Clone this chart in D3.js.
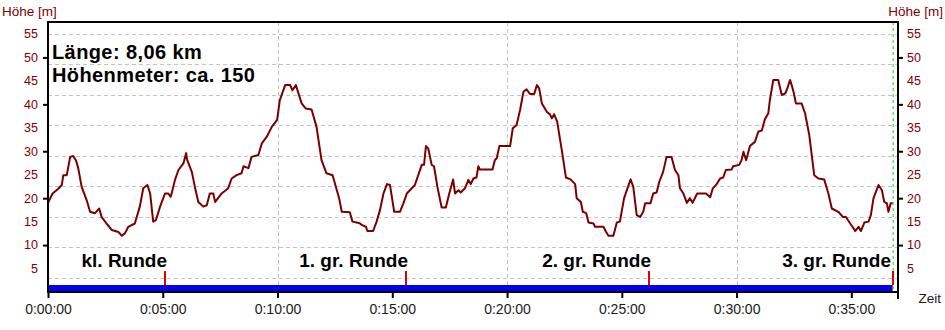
<!DOCTYPE html>
<html>
<head>
<meta charset="utf-8">
<script src="https://cdn.jsdelivr.net/npm/d3@7"></script>
<style>
  body { margin: 0; background: #fff; }
  svg { display: block; font-family: "Liberation Sans", Arial, sans-serif; }
</style>
</head>
<body>
<div id="chart"></div>
<script>
// elevation profile (time in seconds, height in m)
const timeSec = [0,12,27,36,40,49,58,66,73,79,88,101,110,123,134,140,153,167,184,193,201,210,227,240,249,260,267,275,282,293,306,314,321,332,341,354,361,364,376,384,393,406,415,423,432,437,454,471,480,493,506,511,524,532,550,559,572,585,599,606,620,633,639,648,663,674,689,702,715,728,744,755,761,768,789,796,807,816,820,831,835,850,859,868,877,886,894,905,920,929,938,951,959,968,977,983,988,994,1003,1009,1018,1029,1040,1049,1059,1064,1073,1079,1090,1099,1105,1112,1120,1125,1129,1162,1168,1173,1180,1208,1215,1225,1234,1243,1251,1260,1271,1278,1284,1291,1304,1312,1317,1323,1331,1343,1354,1366,1378,1382,1393,1398,1407,1413,1426,1430,1452,1459,1465,1478,1487,1495,1506,1523,1530,1539,1548,1556,1561,1575,1582,1591,1598,1608,1617,1630,1639,1648,1652,1661,1670,1678,1685,1697,1720,1731,1738,1748,1757,1765,1772,1787,1791,1807,1813,1818,1825,1835,1848,1857,1866,1874,1883,1887,1896,1909,1918,1927,1931,1940,1944,1950,1955,1970,1979,1990,2003,2014,2029,2040,2049,2066,2078,2086,2097,2103,2110,2119,2125,2134,2145,2151,2158,2171,2180,2186,2193,2197,2203,2208];
const heightM = [19,21,22,22.8,24.9,24.9,28.8,29,28.1,26.4,22.4,19.6,17.1,16.8,17.8,16,14.6,13.2,12.8,12,12.5,13.9,14.6,18.2,22.1,22.8,21,15,15.3,18.2,21,21,20.3,23.9,26,27.4,29.6,28.1,25.6,22.4,19.2,18.2,18.5,21,21,19.2,21,22.1,24.2,24.9,25.3,26.8,26.4,28.8,29.2,31.7,33.1,35.2,36.7,40.9,44.1,44.1,43,44.1,40.2,39.1,38.9,35.2,28.1,25.3,24.9,21.7,20,17.1,17,15,14.8,14.6,14.3,13.9,13,13,15,17.5,21,23,22.8,17.1,17.1,18.9,21,22.1,22.8,24.9,27.1,27.1,31.1,30.6,27.1,26.8,22.4,18,18,21,24,21,21.7,21.2,22.1,23.9,23,24.2,24.4,26.8,26.1,26.1,28.1,28.5,31.1,31.1,34.9,35.6,38.8,42.7,43.2,42.2,42.2,44.1,43.4,40.2,38.4,37.9,37,37.9,36.3,30.3,24.4,24,23,20,19.2,17.1,16.8,14.8,14.6,13.9,13.9,12.8,12,12,14.8,15,20,24,22.4,16.4,16,17.1,18.9,18.9,21,21.2,23.5,25.6,28.8,28.8,26,24.9,22.1,21,19,20,19,21,21,20.2,22.1,23,24.2,24.4,26,26.1,26.8,27.1,28.1,29.9,28.1,31.1,32,34.2,34.4,36.8,38.1,40.9,45.2,45.2,42,42.3,43,45.2,44.1,42.3,40.2,40.2,38.1,33.5,24.9,24.2,24,21,17.8,17.1,16,16,14.6,13.9,13,13.9,13,14.8,15,16.4,20,22.8,21.7,19.2,18.9,17.1,18.9,18.9];

// lap markers
const lapNames = ["kl. Runde", "1. gr. Runde", "2. gr. Runde", "3. gr. Runde"];
const lapTimes = [307, 936, 1571, 2210];

const yLabelValues = [5, 10, 15, 20, 25, 30, 35, 40, 45, 50, 55];
const yTickValues = [10, 20, 30, 40, 50];
const yGridValues = [3, 9.5, 16, 22.5, 29, 35.5, 42, 48.5, 55];
const xTickValues = [0, 300, 600, 900, 1200, 1500, 1800, 2100];
const xGridValues = [600, 1200, 1800];
const infoLines = ["Länge: 8,06 km", "Höhenmeter: ca. 150"];

const W = 945, H = 330;
const pLeft = 48, pRight = 898, pTop = 22, pBottom = 292;
const trackEnd = 2208;

const svg = d3.select("#chart").append("svg")
  .attr("width", W).attr("height", H);

const x = d3.scaleLinear().domain([0, 2222]).range([pLeft, pRight]);
const y = d3.scaleLinear().domain([0, 57.55]).range([pBottom, pTop]);

const fmtTime = s => {
  const h = Math.floor(s / 3600), m = Math.floor((s % 3600) / 60), sec = s % 60;
  return `${h}:${String(m).padStart(2, "0")}:${String(sec).padStart(2, "0")}`;
};

// grid
svg.append("g").selectAll("line").data(yGridValues).join("line")
  .attr("x1", pLeft).attr("x2", pRight)
  .attr("y1", d => Math.round(y(d)) + 0.5).attr("y2", d => Math.round(y(d)) + 0.5)
  .attr("stroke", "#c4c4c4").attr("stroke-dasharray", "4,3");
svg.append("g").selectAll("line").data(xGridValues).join("line")
  .attr("x1", d => Math.round(x(d)) + 0.5).attr("x2", d => Math.round(x(d)) + 0.5)
  .attr("y1", pTop).attr("y2", pBottom)
  .attr("stroke", "#c4c4c4").attr("stroke-dasharray", "4,3");

// profile line
const points = timeSec.map((t, i) => [t, heightM[i]]);
const line = d3.line().x(d => x(d[0])).y(d => y(d[1]));
svg.append("path").datum(points)
  .attr("fill", "none").attr("stroke", "#7a0000").attr("stroke-width", 2)
  .attr("stroke-linejoin", "round")
  .attr("d", line);

// info text
svg.append("g").selectAll("text").data(infoLines).join("text")
  .attr("x", 52).attr("y", (d, i) => 58.5 + i * 23.5)
  .attr("font-size", "20px").attr("font-weight", "bold").attr("letter-spacing", "0.4px")
  .attr("fill", "#000").text(d => d);

// track bar
svg.append("rect")
  .attr("x", pLeft).attr("y", 285).attr("width", x(trackEnd) - pLeft).attr("height", 6.5)
  .attr("fill", "#0000f0");

// green end line
svg.append("line")
  .attr("x1", x(trackEnd) + 0.5).attr("x2", x(trackEnd) + 0.5)
  .attr("y1", pTop).attr("y2", pBottom)
  .attr("stroke", "#22cc22").attr("stroke-dasharray", "3,3");

// lap markers and labels
const laps = svg.append("g").selectAll("g").data(lapTimes).join("g")
  .attr("transform", d => `translate(${Math.round(x(d))},0)`);
laps.append("line")
  .attr("x1", 0).attr("x2", 0).attr("y1", 271).attr("y2", 285)
  .attr("stroke", "#e00000").attr("stroke-width", 2);
laps.append("text")
  .attr("x", d => Math.min(2, pRight - 7 - Math.round(x(d))))
  .attr("y", 267)
  .attr("text-anchor", "end")
  .attr("font-size", "19px").attr("font-weight", "bold").attr("fill", "#000")
  .text((d, i) => lapNames[i]);

// frame
svg.append("line").attr("x1", pLeft - 1).attr("x2", pRight + 1).attr("y1", pTop).attr("y2", pTop)
  .attr("stroke", "#000").attr("stroke-width", 2);

// left axis
const yAxisL = svg.append("g").attr("transform", `translate(${pLeft},0)`);
yAxisL.call(d3.axisLeft(y).tickValues(yTickValues).tickSize(5).tickFormat(""));
yAxisL.select(".domain").remove();
yAxisL.selectAll(".tick line").attr("stroke", "#000").attr("stroke-width", 2);
yAxisL.append("line").attr("y1", pTop).attr("y2", pBottom + 1).attr("stroke", "#000").attr("stroke-width", 2);
yAxisL.selectAll(".lab").data(yLabelValues).join("text")
  .attr("x", -10).attr("y", d => y(d)).attr("dy", "0.35em")
  .attr("text-anchor", "end").attr("font-size", "12.5px").attr("fill", "#800000")
  .text(d => d);

// right axis
const yAxisR = svg.append("g").attr("transform", `translate(${pRight},0)`);
yAxisR.call(d3.axisRight(y).tickValues(yTickValues).tickSize(5).tickFormat(""));
yAxisR.select(".domain").remove();
yAxisR.selectAll(".tick line").attr("stroke", "#000").attr("stroke-width", 2);
yAxisR.append("line").attr("y1", pTop - 1).attr("y2", pBottom + 7).attr("stroke", "#000").attr("stroke-width", 2);
yAxisR.selectAll(".lab").data(yLabelValues).join("text")
  .attr("x", 9).attr("y", d => y(d)).attr("dy", "0.35em")
  .attr("text-anchor", "start").attr("font-size", "12.5px").attr("fill", "#800000")
  .text(d => d);

// bottom axis
const xAxis = svg.append("g").attr("transform", `translate(0,${pBottom})`);
xAxis.call(d3.axisBottom(x).tickValues(xTickValues).tickSize(6).tickFormat(fmtTime));
xAxis.select(".domain").remove();
xAxis.append("line").attr("x1", pLeft - 1).attr("x2", pRight + 1).attr("stroke", "#000").attr("stroke-width", 2);
xAxis.selectAll(".tick line").attr("stroke", "#000").attr("stroke-width", 2);
xAxis.selectAll(".tick text")
  .attr("y", 12).attr("font-size", "14px").attr("fill", "#1a1a1a")
  .attr("font-family", "Liberation Sans, Arial, sans-serif");

// axis titles
svg.append("text").attr("x", 2).attr("y", 16)
  .attr("font-size", "13.5px").attr("fill", "#800000").text("Höhe [m]");
svg.append("text").attr("x", 943).attr("y", 16).attr("text-anchor", "end")
  .attr("font-size", "13.5px").attr("fill", "#800000").text("Höhe [m]");
svg.append("text").attr("x", 941).attr("y", 303).attr("text-anchor", "end")
  .attr("font-size", "13.5px").attr("fill", "#1a1a1a").text("Zeit");
</script>
</body>
</html>
